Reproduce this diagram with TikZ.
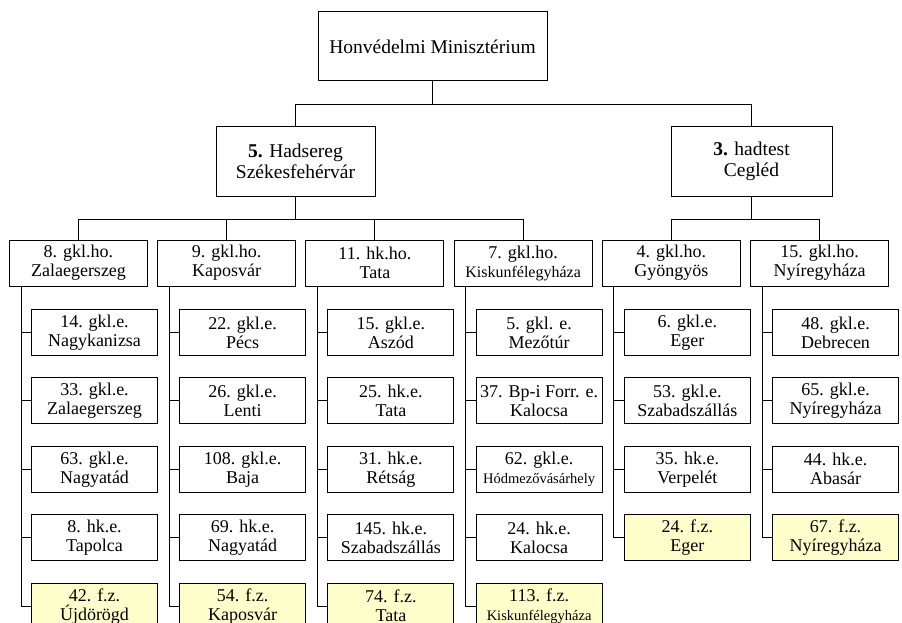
\documentclass[tikz,border=0pt]{standalone}
\usepackage{fontspec}
\setmainfont{Liberation Serif}
\definecolor{fzyellow}{RGB}{255,255,204}

\begin{document}
\begin{tikzpicture}[x=1pt,y=-1pt,line width=1pt,
  unit/.style={draw,fill=white,align=center,inner sep=0pt,font=\fontsize{18}{19}\selectfont},
  top unit/.style={unit,font=\fontsize{19.5}{21}\selectfont,minimum height=69pt},
  corps unit/.style={unit,minimum width=138pt,minimum height=46pt},
  sub unit/.style={unit,minimum width=126pt,minimum height=46pt},
  depot unit/.style={sub unit,fill=fzyellow},
  down/.style={to path={(\tikztostart.south) -- ++(0,23) -| (\tikztotarget.north)}},
  side/.style={to path={([xshift=12pt]\tikztostart.south west) |- (\tikztotarget.west)}}]

  \useasboundingbox (0,0) rectangle (902,623);
  \clip (0,0) rectangle (902,623);

  % command
  \node[top unit,minimum width=229pt] (hm) at (432.5,46.5) {Honvédelmi Minisztérium};
  \node[top unit,minimum width=159pt] (h5) at (295.5,161.5) {\textbf{5.} Hadsereg\\Székesfehérvár};
  \node[top unit,minimum width=161pt] (h3) at (751.5,161.5) {\textbf{3.} hadtest\\Cegléd};

  % district commands
  \node[corps unit] (g8) at (78.5,263) {8. gkl.ho.\\Zalaegerszeg};
  \node[corps unit] (g9) at (226.7,263) {9. gkl.ho.\\Kaposvár};
  \node[corps unit] (h11) at (374.9,263) {11. hk.ho.\\Tata};
  \node[corps unit] (g7) at (523.1,263) {7. gkl.ho.\\{\fontsize{16}{19}\selectfont Kiskunfélegyháza}};
  \node[corps unit] (g4) at (671.3,263) {4. gkl.ho.\\Gyöngyös};
  \node[corps unit] (g15) at (819.5,263) {15. gkl.ho.\\Nyíregyháza};

  % regiments
  \node[sub unit] (e14) at (94.5,332.5) {14. gkl.e.\\Nagykanizsa};
  \node[sub unit] (e33) at (94.5,400.9) {33. gkl.e.\\Zalaegerszeg};
  \node[sub unit] (e63) at (94.5,469.3) {63. gkl.e.\\Nagyatád};
  \node[sub unit] (e8) at (94.5,537.7) {8. hk.e.\\Tapolca};
  \node[depot unit] (fz42) at (94.5,606.1) {42. f.z.\\Újdörögd};

  \node[sub unit] (e22) at (242.7,332.5) {22. gkl.e.\\Pécs};
  \node[sub unit] (e26) at (242.7,400.9) {26. gkl.e.\\Lenti};
  \node[sub unit] (e108) at (242.7,469.3) {108. gkl.e.\\Baja};
  \node[sub unit] (e69) at (242.7,537.7) {69. hk.e.\\Nagyatád};
  \node[depot unit] (fz54) at (242.7,606.1) {54. f.z.\\Kaposvár};

  \node[sub unit] (e15) at (390.9,332.5) {15. gkl.e.\\Aszód};
  \node[sub unit] (e25) at (390.9,400.9) {25. hk.e.\\Tata};
  \node[sub unit] (e31) at (390.9,469.3) {31. hk.e.\\Rétság};
  \node[sub unit] (e145) at (390.9,537.7) {145. hk.e.\\Szabadszállás};
  \node[depot unit] (fz74) at (390.9,606.1) {74. f.z.\\Tata};

  \node[sub unit] (e5) at (539.1,332.5) {5. gkl. e.\\Mezőtúr};
  \node[sub unit] (e37) at (539.1,400.9) {37. Bp-i Forr. e.\\Kalocsa};
  \node[sub unit] (e62) at (539.1,469.3) {62. gkl.e.\\{\fontsize{14.5}{19}\selectfont Hódmezővásárhely}};
  \node[sub unit] (e24) at (539.1,537.7) {24. hk.e.\\Kalocsa};
  \node[depot unit] (fz113) at (539.1,606.1) {113. f.z.\\{\fontsize{14.5}{19}\selectfont Kiskunfélegyháza}};

  \node[sub unit] (e6) at (687.3,332.5) {6. gkl.e.\\Eger};
  \node[sub unit] (e53) at (687.3,400.9) {53. gkl.e.\\Szabadszállás};
  \node[sub unit] (e35) at (687.3,469.3) {35. hk.e.\\Verpelét};
  \node[depot unit] (fz24) at (687.3,537.7) {24. f.z.\\Eger};

  \node[sub unit] (e48) at (835.5,332.5) {48. gkl.e.\\Debrecen};
  \node[sub unit] (e65) at (835.5,400.9) {65. gkl.e.\\Nyíregyháza};
  \node[sub unit] (e44) at (835.5,469.3) {44. hk.e.\\Abasár};
  \node[depot unit] (fz67) at (835.5,537.7) {67. f.z.\\Nyíregyháza};

  \path
   (hm) edge[down] (h5)
   (hm) edge[down] (h3)
   (h5) edge[down] (g8)
   (h5) edge[down] (g9)
   (h5) edge[down] (h11)
   (h5) edge[down] (g7)
   (h3) edge[down] (g4)
   (h3) edge[down] (g15)

   (g8) edge[side] (e14)
   (g8) edge[side] (e33)
   (g8) edge[side] (e63)
   (g8) edge[side] (e8)
   (g8) edge[side] (fz42)
   (g9) edge[side] (e22)
   (g9) edge[side] (e26)
   (g9) edge[side] (e108)
   (g9) edge[side] (e69)
   (g9) edge[side] (fz54)
   (h11) edge[side] (e15)
   (h11) edge[side] (e25)
   (h11) edge[side] (e31)
   (h11) edge[side] (e145)
   (h11) edge[side] (fz74)
   (g7) edge[side] (e5)
   (g7) edge[side] (e37)
   (g7) edge[side] (e62)
   (g7) edge[side] (e24)
   (g7) edge[side] (fz113)
   (g4) edge[side] (e6)
   (g4) edge[side] (e53)
   (g4) edge[side] (e35)
   (g4) edge[side] (fz24)
   (g15) edge[side] (e48)
   (g15) edge[side] (e65)
   (g15) edge[side] (e44)
   (g15) edge[side] (fz67);
\end{tikzpicture}
\end{document}
